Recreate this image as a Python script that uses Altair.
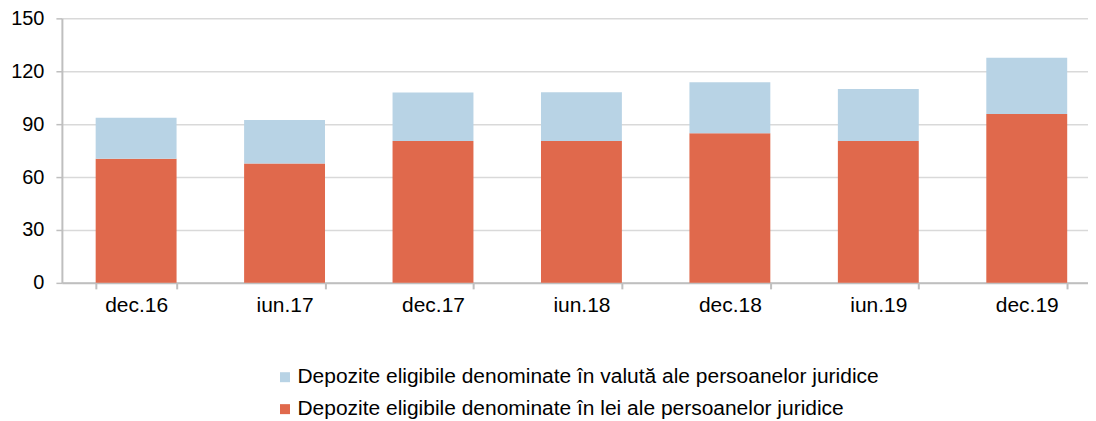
import altair as alt
import pandas as pd

periods = ["dec.16", "iun.17", "dec.17", "iun.18", "dec.18", "iun.19", "dec.19"]
lei = [70.4, 67.7, 80.4, 80.4, 84.9, 80.4, 95.8]
valuta_total = [93.6, 92.4, 107.9, 108.1, 113.8, 110.0, 127.7]
valuta = [round(t - l, 1) for t, l in zip(valuta_total, lei)]

s_val = "Depozite eligibile denominate în valută ale persoanelor juridice"
s_lei = "Depozite eligibile denominate în lei ale persoanelor juridice"

rows = []
for p, v, l in zip(periods, valuta, lei):
    rows.append({"period": p, "series": s_lei, "value": l, "order": 0})
    rows.append({"period": p, "series": s_val, "value": v, "order": 1})
df = pd.DataFrame(rows)

FONT = "Liberation Sans"

chart = alt.Chart(df).mark_bar().encode(
    x=alt.X("period:N", sort=periods, title=None,
            scale=alt.Scale(paddingInner=0.455, paddingOuter=0.2275,
                            range=[0, 1041]),
            axis=alt.Axis(labelAngle=0, tickBand="extent", tickSize=6,
                          tickColor="#bfbfbf", tickWidth=2,
                          domainColor="#bfbfbf", domainWidth=2,
                          labelFontSize=21, labelColor="#000000",
                          labelPadding=6, grid=False)),
    y=alt.Y("value:Q", stack="zero", title=None,
            scale=alt.Scale(domain=[0, 150], nice=False),
            axis=alt.Axis(values=[0, 30, 60, 90, 120, 150], tickSize=6,
                          tickColor="#bfbfbf", tickWidth=1.5,
                          domainColor="#bfbfbf", domainWidth=2,
                          gridColor="#d9d9d9", gridWidth=1.5,
                          labelFontSize=20, labelColor="#000000",
                          labelPadding=12)),
    color=alt.Color("series:N",
                    scale=alt.Scale(domain=[s_val, s_lei],
                                    range=["#b8d3e5", "#e0694c"]),
                    legend=alt.Legend(title=None, orient="none",
                                      legendX=213, legendY=349,
                                      symbolType="square", symbolSize=100,
                                      symbolStrokeWidth=0,
                                      labelFontSize=21, labelColor="#000000",
                                      rowPadding=10, labelOffset=2,
                                      labelLimit=900)),
    order=alt.Order("order:Q"),
).properties(
    width=1028, height=265,
    autosize=alt.AutoSizeParams(type="none"),
    padding={"left": 54, "top": 10, "right": 0, "bottom": 138},
).configure(font=FONT).configure_view(stroke=None)

chart.save("out.html", embed_options={"renderer": "svg", "actions": False})
